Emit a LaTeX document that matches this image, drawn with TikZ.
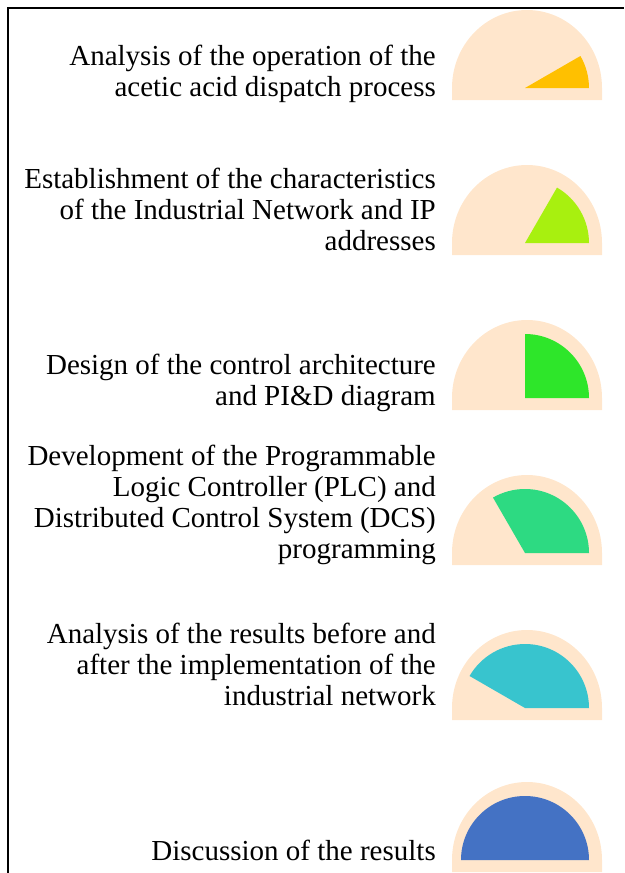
\documentclass[tikz,border=0pt]{standalone}
\usepackage{fontspec}
\setmainfont{Liberation Serif}
\usepackage{xcolor}
\usepackage{tikz}

\definecolor{pesca}{HTML}{FFE6CC}
\definecolor{oro}{HTML}{FFC000}
\definecolor{lime}{HTML}{A8F00F}
\definecolor{verde}{HTML}{2EE62A}
\definecolor{smeraldo}{HTML}{2DDA82}
\definecolor{ciano}{HTML}{38C4CE}
\definecolor{blu}{HTML}{4472C4}

\tikzset{
  fase/.style={font=\fontsize{29}{30.8}\selectfont, align=right, inner sep=0pt, anchor=base east},
  fondo/.style={fill=pesca},
}

\begin{document}
\begin{tikzpicture}[x=1pt,y=1pt]
    \useasboundingbox (0,0) rectangle (624,-873);
    \draw[line width=2pt](8,-873)--(8,-8)--(624,-8);
    % quadranti: fondo e settore
    \foreach \cy/\ang/\col in {88/30/oro, 243/60/lime, 398/90/verde, 553/120/smeraldo, 708/150/ciano, 860/180/blu}{
        \fill[fondo](452,-\cy-12)--(452,-\cy) arc[start angle=180,end angle=0,x radius=75,y radius=78]--(602,-\cy-12)--cycle;
        \fill[\col](525,-\cy)--(589,-\cy) arc[start angle=0,end angle=\ang,radius=64]--cycle;
    }
    \node[fase] (f1) at (436,-96) {Analysis of the operation of the\\acetic acid dispatch process};
    \node[fase] (f2) at (436,-250) {Establishment of the characteristics\\of the Industrial Network and IP\\addresses};
    \node[fase] (f3) at (436,-405) {Design of the control architecture\\and PI\&D diagram};
    \node[fase] (f4) at (436,-558) {Development of the Programmable\\Logic Controller (PLC) and\\Distributed Control System (DCS)\\programming};
    \node[fase] (f5) at (436,-705) {Analysis of the results before and\\after the implementation of the\\industrial network};
    \node[fase] (f6) at (436,-860) {Discussion of the results};
\end{tikzpicture}
\end{document}
